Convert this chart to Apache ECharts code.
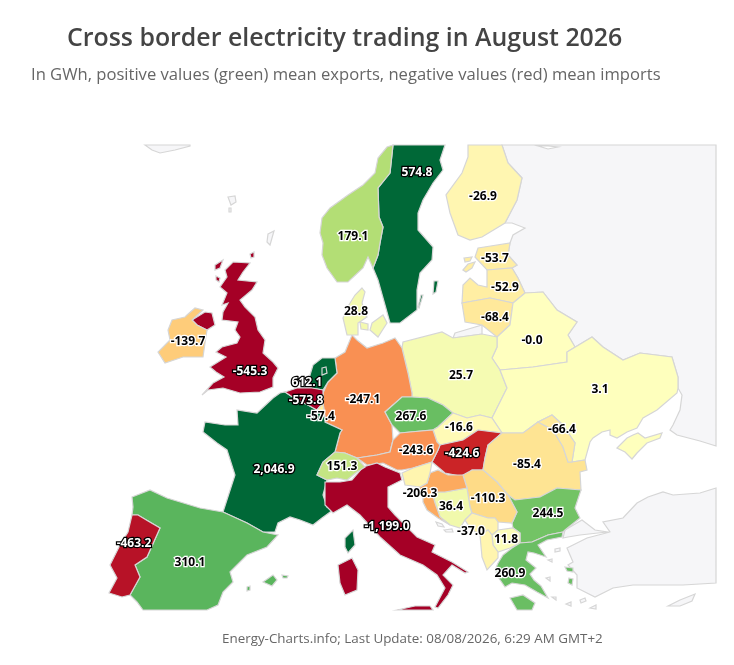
<!DOCTYPE html>
<html><head><meta charset="utf-8">
<style>html,body{margin:0;padding:0;background:#fff}#c{width:734px;height:665px}</style>
<script src="https://cdn.jsdelivr.net/npm/echarts@6/dist/echarts.min.js"></script>
</head><body><div id="c"></div>
<script>
const countries = ["Sweden","Finland","Norway","Estonia","Latvia","Lithuania","Belarus","Poland","Ukraine","Germany","France","Czechia","Slovakia","Hungary","Austria","Romania","Moldova","Bulgaria","Serbia","Bosnia","Croatia","Montenegro","North Macedonia","Greece","Italy","Switzerland","Spain","Portugal","United Kingdom","Ireland","Netherlands","Belgium","Luxembourg","Denmark","Slovenia","Albania"];
const values = [574.8,-26.9,179.1,-53.7,-52.9,-68.4,-0.0,25.7,3.1,-247.1,2046.9,267.6,-16.6,-424.6,-243.6,-85.4,-66.4,244.5,-110.3,36.4,-206.3,-37.0,11.8,260.9,-1199.0,151.3,310.1,-463.2,-545.3,-139.7,612.1,-573.8,-57.4,28.8,-30,-30];
const unlabelled = ["Slovenia","Albania"];
const lightTextOn = ["Sweden","France","Netherlands","Belgium","Italy","Hungary","Portugal","United Kingdom"];
const colourStops = ["#a50026","#be1827","#d73027","#e64f35","#f46d43","#f98e52","#fdae61","#fec776","#fee08b","#ffefa5","#ffffbf","#ecf7a5","#d9ef8b","#c5e584","#a6d96a","#6dc064","#61b95e","#3ea757","#1a9850","#0e8044","#006837"];

// region outlines, as [x, y] map units
const outlines = {
 Russia:{rings:[[[502,145],[716,145],[716,446],[700,441],[677,435],[670,430],[673,425],[680,410],[682,395],[678,388],[678,377],[672,357],[640,353],[623,360],[603,347],[592,337],[567,352],[575,347],[568,335],[577,322],[557,310],[543,292],[525,293],[518,278],[512,268],[517,265],[508,255],[510,243],[513,235],[525,228],[512,223],[505,223],[517,200],[522,178],[508,163]],[[538,146],[548,149],[558,147],[548,146]]]},
 Kaliningrad:{rings:[[[455,333],[482,325],[482,334],[453,338]]]},
 Turkey:{polys:[[[716,488],[700,493],[673,495],[663,492],[648,497],[637,503],[623,518],[603,522],[610,532],[587,538],[567,548],[573,562],[568,565],[577,575],[577,588],[595,597],[613,588],[633,585],[683,585],[716,583]],[[565,530],[582,520],[595,530],[607,532],[580,535],[568,537],[563,538]]]},
 Cyprus:{polys:[[[668,606],[680,600],[695,594],[692,601],[680,606]]]},
 Iceland:{polys:[[[145,145],[152,150],[160,153],[175,150],[190,146],[190,145]]]},
 Faroe:{polys:[[[228,197],[235,196],[236,202],[231,205]],[[229,208],[231,208],[231,212],[229,212]]]},
 Shetland:{polys:[[[268,234],[274,231],[272,238],[270,245],[267,242]]]},
 Aegean:{polys:[[[555,549],[560,548],[560,551],[555,552]],[[548,560],[552,559],[552,562]],[[580,600],[585,598],[586,601],[581,603]],[[552,597],[556,597],[556,600]],[[566,604],[571,602],[571,606]],[[546,578],[550,577],[550,581]],[[590,608],[596,605],[596,609]],[[436,522],[442,524],[444,527],[438,526]],[[444,530],[452,529],[453,532],[446,532]]]},
 Sweden:{cp:[417,173],polys:[[[393,145],[445,145],[440,160],[443,170],[433,183],[423,200],[418,213],[418,230],[433,247],[432,260],[420,273],[417,290],[417,310],[400,323],[390,323],[385,305],[378,280],[373,268],[378,255],[380,243],[383,227],[379,217],[378,188],[390,173]],[[434,281],[438,281],[436,292],[433,294]],[[421,295],[423,295],[419,308],[418,307]]]},
 Norway:{cp:[353,237],polys:[[[393,145],[387,147],[378,158],[375,173],[363,185],[348,195],[330,208],[322,218],[320,233],[323,243],[322,255],[327,268],[337,282],[348,282],[363,268],[368,257],[373,268],[378,255],[380,243],[383,227],[379,217],[378,188],[390,173]]]},
 Finland:{cp:[483,197],polys:[[[468,145],[502,145],[508,163],[522,178],[517,200],[505,223],[482,237],[470,240],[458,235],[450,213],[446,195],[462,173],[468,157]]]},
 Estonia:{cp:[495,259],polys:[[[478,248],[510,243],[508,255],[517,265],[512,268],[487,270],[475,257]],[[463,270],[468,264],[475,262],[472,268],[466,272]],[[464,258],[472,257],[470,261],[465,262]]]},
 Latvia:{cp:[505,288],polys:[[[462,303],[463,285],[470,278],[478,285],[487,287],[487,270],[512,268],[518,278],[525,293],[513,303],[490,298]]]},
 Lithuania:{cp:[495,318],polys:[[[462,303],[490,298],[513,303],[510,325],[497,337],[482,325],[465,322]]]},
 Belarus:{cp:[532,341],polys:[[[525,293],[543,292],[557,310],[577,322],[568,335],[575,347],[567,352],[567,362],[533,367],[500,370],[492,358],[497,347],[497,337],[510,325],[513,303]]]},
 Poland:{cp:[461,376],polys:[[[402,348],[403,342],[442,332],[453,338],[482,334],[497,337],[497,347],[492,358],[500,370],[507,388],[497,408],[492,418],[480,415],[467,418],[453,413],[443,405],[428,398],[412,397],[412,393],[408,373]]]},
 Ukraine:{cp:[600,390],polys:[[[500,370],[533,367],[567,362],[567,352],[592,337],[603,347],[623,360],[640,353],[672,357],[678,377],[678,388],[677,393],[657,410],[643,418],[637,428],[627,432],[617,438],[610,435],[610,430],[602,432],[593,438],[590,442],[585,460],[572,462],[575,443],[573,440],[563,425],[552,415],[538,422],[523,433],[502,433],[492,418],[497,408],[507,388]],[[617,448],[627,438],[633,435],[638,433],[645,438],[662,433],[660,438],[647,443],[637,453],[632,459],[625,452]]]},
 Germany:{cp:[363,400],polys:[[[352,335],[357,340],[367,348],[383,343],[395,338],[402,348],[408,373],[412,393],[412,397],[402,397],[385,412],[392,425],[393,440],[390,452],[377,455],[357,458],[345,453],[335,452],[340,433],[342,430],[325,422],[325,417],[323,403],[323,393],[328,382],[337,373],[335,358],[345,352]]]},
 France:{cp:[274,470],polys:[[[280,393],[285,392],[297,400],[308,405],[317,410],[325,417],[325,422],[342,430],[340,433],[335,452],[323,462],[317,475],[327,480],[323,495],[327,507],[333,510],[322,518],[313,525],[300,520],[290,517],[278,523],[275,532],[263,532],[247,523],[223,512],[235,475],[227,450],[217,443],[203,432],[205,422],[225,425],[238,425],[237,410],[257,413],[273,398]],[[353,530],[355,545],[348,553],[345,547],[345,538]]]},
 Czechia:{cp:[411,417],polys:[[[385,412],[402,397],[412,397],[428,398],[443,405],[453,413],[438,427],[433,430],[410,432],[400,433],[392,425]]]},
 Slovakia:{cp:[459,428],polys:[[[453,413],[467,418],[480,415],[492,418],[502,433],[478,430],[463,440],[440,445],[437,442],[433,430],[438,427]]]},
 Hungary:{cp:[462,454],polys:[[[502,433],[488,445],[485,458],[483,470],[472,470],[465,477],[445,473],[432,462],[438,450],[440,445],[463,440],[478,430]]]},
 Austria:{cp:[416,451],polys:[[[357,458],[377,455],[390,452],[393,440],[400,433],[410,432],[433,430],[437,442],[440,445],[438,450],[432,462],[413,468],[402,470],[397,470],[383,463],[367,465]]]},
 Romania:{cp:[527,465],polys:[[[502,433],[523,433],[538,422],[553,430],[563,447],[568,462],[572,462],[585,460],[587,470],[580,472],[581,490],[557,488],[540,497],[515,500],[508,495],[497,482],[483,470],[485,458],[488,445]]]},
 Moldova:{cp:[562,430],polys:[[[538,422],[552,415],[563,425],[573,440],[575,443],[572,462],[568,462],[563,447],[553,430]]]},
 Bulgaria:{cp:[548,514],polys:[[[508,495],[515,500],[540,497],[557,488],[581,490],[575,508],[580,518],[565,530],[563,532],[548,535],[532,542],[520,543],[520,533],[513,528],[512,523],[517,512]]]},
 Serbia:{cp:[488,499],polys:[[[463,475],[472,470],[483,470],[497,482],[508,495],[517,512],[512,523],[498,522],[495,518],[488,518],[472,513],[470,507],[467,488]]]},
 Bosnia:{cp:[451,507],polys:[[[432,492],[445,492],[467,488],[470,507],[472,513],[465,520],[460,528],[450,525],[440,517],[435,503]]]},
 Croatia:{cp:[420,494],polys:[[[427,483],[430,473],[438,470],[448,475],[463,475],[467,488],[445,492],[432,492],[435,503],[440,517],[450,525],[438,518],[427,510],[423,502],[423,493],[418,490],[420,487]]]},
 Slovenia:{cp:[415,478],polys:[[[402,473],[413,468],[432,462],[430,473],[427,483],[420,487],[405,485]]]},
 Montenegro:{cp:[471,532],polys:[[[465,520],[472,513],[488,518],[495,518],[498,522],[498,530],[492,535],[488,530],[480,535],[470,528]]]},
 "North Macedonia":{cp:[506,540],polys:[[[492,535],[498,530],[513,528],[520,533],[520,543],[510,548],[498,552],[493,545]]]},
 Albania:{cp:[488,550],polys:[[[480,535],[488,530],[492,535],[493,545],[498,552],[498,558],[487,570],[482,557]]]},
 Greece:{cp:[510,574],polys:[[[498,563],[503,555],[512,548],[520,543],[532,542],[548,535],[563,532],[562,537],[547,540],[538,545],[546,557],[534,553],[528,552],[526,560],[536,568],[530,574],[534,580],[541,586],[548,598],[537,592],[525,585],[512,583],[505,587],[498,577],[495,570]],[[510,598],[523,595],[535,603],[532,610],[517,610]],[[565,567],[573,568],[573,572],[567,571]],[[569,578],[573,579],[572,585],[568,583]]]},
 Italy:{cp:[387,527],polys:[[[325,482],[340,482],[352,480],[363,467],[377,463],[385,467],[400,473],[402,480],[388,487],[388,507],[395,515],[417,537],[435,545],[432,552],[452,562],[468,572],[465,573],[452,565],[443,575],[453,585],[448,595],[438,608],[435,607],[445,588],[437,575],[423,565],[400,555],[380,537],[360,515],[347,505],[333,513],[325,505],[325,493]],[[338,565],[352,558],[358,570],[357,590],[345,595],[340,583]],[[397,610],[415,606],[430,606],[433,610]]]},
 Switzerland:{cp:[342,467],polys:[[[317,475],[323,462],[335,452],[345,453],[357,458],[365,467],[357,472],[347,480],[337,478],[327,480]]]},
 Spain:{cp:[190,563],polys:[[[132,497],[150,490],[167,498],[200,508],[223,512],[247,523],[263,532],[278,535],[267,547],[247,555],[230,572],[233,582],[223,592],[218,605],[207,610],[143,610],[137,602],[130,595],[140,577],[135,565],[147,557],[160,528],[148,521],[138,515],[132,515],[133,507]],[[263,582],[273,575],[277,580],[272,586]],[[282,575],[288,576],[287,578],[283,578]],[[247,587],[250,586],[250,590],[247,591]]]},
 Portugal:{cp:[134,544],polys:[[[132,515],[138,515],[148,521],[160,528],[147,557],[135,565],[140,577],[130,595],[122,597],[109,593],[117,578],[110,565],[120,545],[128,532]]]},
 "United Kingdom":{cp:[250,372],polys:[[[233,262],[250,263],[243,272],[238,280],[257,282],[252,290],[240,300],[245,307],[255,317],[258,330],[265,340],[263,353],[273,362],[278,368],[273,378],[273,387],[260,392],[240,393],[223,388],[208,390],[202,395],[213,383],[224,377],[216,372],[210,367],[218,362],[226,357],[216,352],[222,347],[237,343],[240,337],[235,330],[238,322],[222,320],[223,312],[228,303],[222,305],[227,293],[220,287],[227,277],[225,270]],[[215,265],[223,260],[220,268],[215,270]],[[216,276],[220,278],[219,282],[216,280]],[[192,320],[205,312],[212,313],[215,325],[207,330],[197,325]],[[250,254],[254,252],[254,257],[251,258]]]},
 Ireland:{cp:[188,342],polys:[[[187,315],[195,308],[203,310],[192,320],[197,325],[207,330],[205,343],[203,357],[183,357],[165,363],[158,352],[170,340],[168,330],[172,320],[185,317]]]},
 Netherlands:{cp:[307,383],rings:[[[310,375],[313,365],[322,358],[335,358],[337,373],[328,382],[323,390],[312,388],[308,383]],[[322,368],[326,367],[327,373],[322,375]]]},
 Belgium:{cp:[306,401],polys:[[[285,392],[297,388],[312,388],[323,390],[323,403],[317,410],[308,405],[297,400]]]},
 Luxembourg:{cp:[321,417],polys:[[[317,410],[323,403],[325,417]]]},
 Denmark:{cp:[356,312],polys:[[[362,288],[365,292],[362,303],[367,317],[358,323],[358,335],[347,335],[343,318],[347,308],[355,295]],[[360,322],[368,324],[368,330],[361,329]],[[372,323],[383,315],[387,323],[378,337],[370,330]]]}
};

function flip(ring){return ring.map(p=>[p[0],-p[1]]);}
const features = Object.keys(outlines).map(name=>{
  const o = outlines[name];
  const geometry = o.rings
    ? {type:"Polygon",coordinates:o.rings.map(flip)}
    : {type:"MultiPolygon",coordinates:o.polys.map(r=>[flip(r)])};
  const properties = {name};
  if(o.cp) properties.cp = [o.cp[0],-o.cp[1]];
  return {type:"Feature",properties,geometry};
});
echarts.registerMap("europe",{type:"FeatureCollection",features});

const fmt = v => (Object.is(v,-0)?"-0.0":v.toLocaleString("en-US",{minimumFractionDigits:1,maximumFractionDigits:1}));
const seriesData = countries.map((name,i)=>{
  const light = lightTextOn.includes(name);
  return {name,value:values[i],label:{
    show:!unlabelled.includes(name),
    formatter:fmt(values[i]),
    color:light?"#fff":"#000",
    textBorderColor:light?"#000":"#fff",
    textBorderWidth:2.5
  }};
});

const chart = echarts.init(document.getElementById("c"),null,{renderer:"canvas"});
chart.setOption({
  animation:false,
  backgroundColor:"#fff",
  title:[
    {text:"Cross border electricity trading in August 2026",left:62,top:21,textStyle:{fontFamily:"Open Sans",fontSize:24.9,fontWeight:600,color:"#444"}},
    {text:"In GWh, positive values (green) mean exports, negative values (red) mean imports",left:26,top:62,textStyle:{fontFamily:"Open Sans",fontSize:16.6,fontWeight:400,color:"#666"}},
    {text:"Energy-Charts.info; Last Update: 08/08/2026, 6:29 AM GMT+2",left:217,top:628,textStyle:{fontFamily:"Open Sans",fontSize:13.4,fontWeight:400,color:"#666"}}
  ],
  visualMap:{type:"continuous",show:false,min:-500,max:500,seriesIndex:0,inRange:{color:colourStops}},
  series:[{
    type:"map",map:"europe",aspectScale:1,roam:false,silent:true,
    boundingCoords:[[0,0],[734,-665]],
    left:0,top:0,width:734,height:665,
    selectedMode:false,
    itemStyle:{areaColor:"#f6f6f8",borderColor:"#d6d6d6",borderWidth:1.2},
    label:{show:false,fontFamily:"Open Sans",fontSize:12,fontWeight:700},
    emphasis:{disabled:true},
    data:seriesData
  }]
});
</script></body></html>
